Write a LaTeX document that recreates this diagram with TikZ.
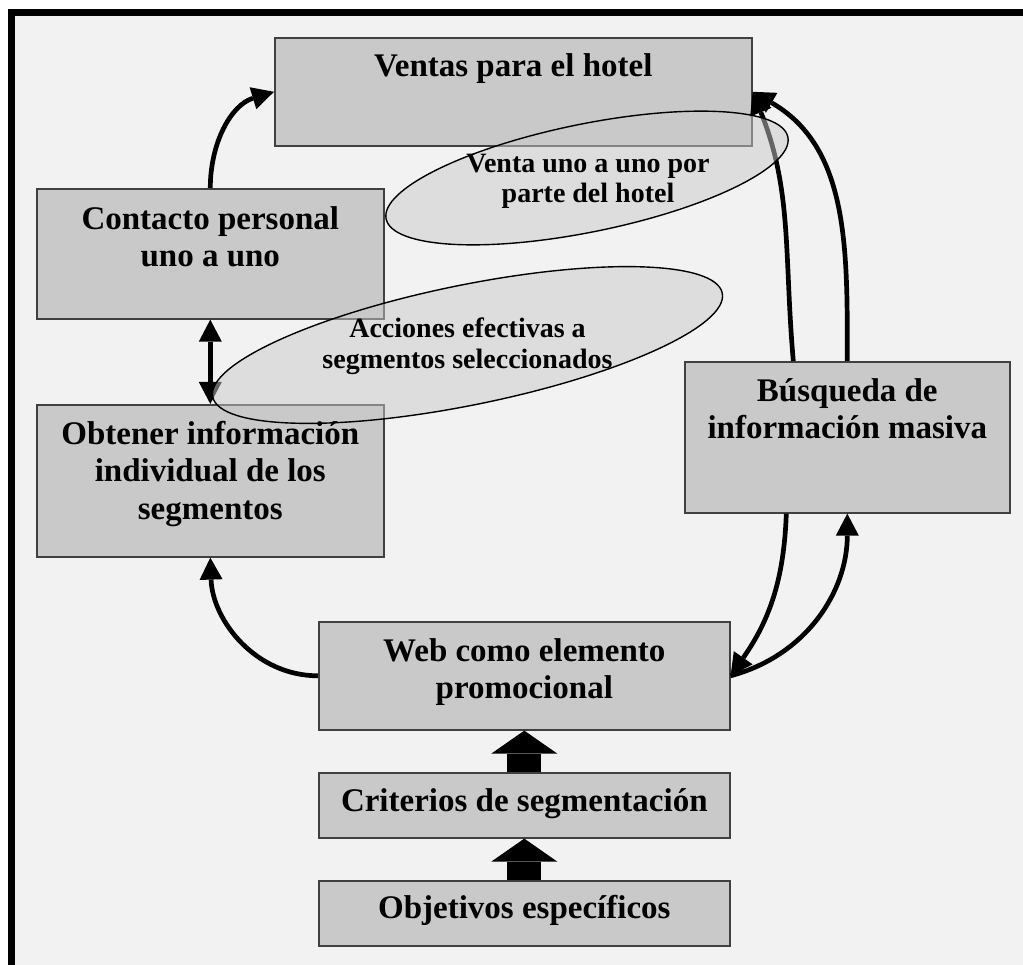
\documentclass[tikz,border=0pt]{standalone}
\usepackage{fontspec}
\setmainfont{Liberation Serif}
\usetikzlibrary{arrows.meta,shapes.geometric}

\begin{document}
\begin{tikzpicture}[x=1pt,y=1pt,
  box/.style={draw=black!75, fill=black!21, line width=1.6pt, rectangle,
    inner sep=0pt, anchor=north west},
  lbl/.style={anchor=north, inner sep=0pt, align=center,
    font=\fontsize{33}{37.5}\selectfont\bfseries},
  etxt/.style={anchor=north, inner sep=0pt, align=center,
    font=\fontsize{28}{30.5}\selectfont\bfseries},
  bubble/.style={ellipse, draw=black, line width=1.4pt, fill=black!21,
    fill opacity=0.5, draw opacity=1, inner sep=0pt},
  tipA/.tip={Triangle[length=22pt,width=23pt,line width=0pt]},
  conn/.style={line width=4.7pt, -tipA},
  both/.style={line width=4.7pt, tipA-tipA},
  fat/.style={line width=34pt, -{Triangle[length=23pt,width=66pt,line width=0pt]}},
]
% page and frame
\useasboundingbox (0,0) rectangle (1023,-965);
\fill[white] (0,0) rectangle (1023,-965);
\fill[black!5] (11.5,-12.5) rectangle (1023,-965);
\draw[line width=7pt, line join=miter] (11.5,-965) -- (11.5,-12.5) -- (1023,-12.5);

% boxes
\node[box, minimum width=477pt, minimum height=108pt] (ventas)   at (274,-37)  {};
\node[box, minimum width=347pt, minimum height=130pt] (contacto) at (36,-188)  {};
\node[box, minimum width=347pt, minimum height=152pt] (obtener)  at (36,-404)  {};
\node[box, minimum width=325pt, minimum height=151pt] (busq)     at (684,-361) {};
\node[box, minimum width=411pt, minimum height=108pt] (web)      at (318,-621) {};
\node[box, minimum width=411pt, minimum height=65pt]  (crit)     at (318,-772) {};
\node[box, minimum width=411pt, minimum height=65pt]  (obj)      at (318,-880) {};

% connectors
\draw[conn] (contacto.north) to[out=90,in=197] (ventas.west);
\draw[both] (contacto.south) -- (obtener.north);
\draw[conn] (web.west) to[out=180,in=-88] (obtener.south);
\draw[conn] (busq.north) to[out=90,in=-30] (ventas.east);
\draw[conn] ([xshift=-54pt]busq.north) to[out=95,in=-68] (ventas.east);
\draw[conn] ([xshift=-61pt]busq.south) to[out=-92,in=55] (web.east);
\draw[conn] (web.east) to[out=15,in=-90] (busq.south);
\draw[fat] (crit.north) -- (web.south);
\draw[fat] (obj.north) -- (crit.south);

% translucent ellipses
\node[bubble, rotate=11.5, minimum width=410pt, minimum height=108pt] (e1) at (587,-178) {};
\node[bubble, rotate=11.5, minimum width=520pt, minimum height=120pt] (e2) at (467.5,-345) {};

% labels
\node[lbl] (tventas)   at ([yshift=-16pt]ventas.north)   {Ventas para el hotel};
\node[lbl] (tcontacto) at ([yshift=-18pt]contacto.north) {Contacto personal\\uno a uno};
\node[lbl] (tobtener)  at ([yshift=-17pt]obtener.north)  {Obtener información\\individual de los\\segmentos};
\node[lbl] (tbusq)     at ([yshift=-17pt]busq.north)     {Búsqueda de\\información masiva};
\node[lbl] (tweb)      at ([yshift=-17pt]web.north)      {Web como elemento\\promocional};
\node[lbl] (tcrit)     at ([yshift=-16pt]crit.north)     {Criterios de segmentación};
\node[lbl] (tobj)      at ([yshift=-15pt]obj.north)      {Objetivos específicos};
\node[etxt] (te1) at ([xshift=1pt,yshift=24.5pt]e1.center) {Venta uno a uno por\\parte del hotel};
\node[etxt] (te2) at ([yshift=27pt]e2.center) {Acciones efectivas a\\segmentos seleccionados};
\end{tikzpicture}
\end{document}
